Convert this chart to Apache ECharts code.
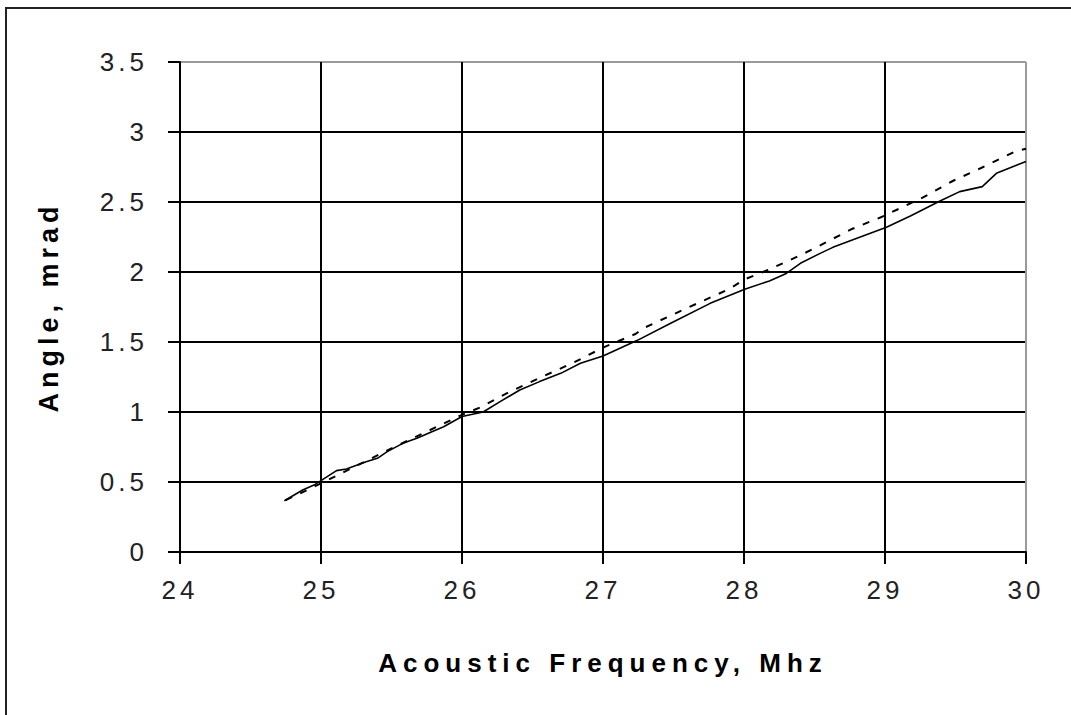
<!DOCTYPE html>
<html>
<head>
<meta charset="utf-8">
<script src="https://cdn.jsdelivr.net/npm/echarts@6/dist/echarts.min.js"></script>
<style>
html,body{margin:0;padding:0;background:#fff;}
#chart{width:1071px;height:715px;}
</style>
</head>
<body>
<div id="chart"></div>
<script>
// Measured angle (solid line)
const freqMeasured = [24.74,24.87,24.95,25.0,25.11,25.18,25.32,25.40,25.47,25.58,25.68,25.77,25.87,26.0,26.15,26.27,26.41,26.55,26.70,26.84,27.0,27.24,27.48,27.76,28.01,28.18,28.30,28.40,28.54,28.63,28.82,29.01,29.18,29.39,29.53,29.69,29.79,30.0];
const angleMeasured = [0.366,0.443,0.478,0.51,0.581,0.593,0.645,0.669,0.717,0.776,0.812,0.852,0.895,0.968,1.00,1.074,1.157,1.217,1.276,1.348,1.40,1.51,1.634,1.776,1.879,1.936,1.99,2.062,2.133,2.176,2.248,2.319,2.40,2.507,2.574,2.61,2.705,2.79];
// Calculated angle (dashed line)
const freqTheory = [24.75,25.0,25.5,26.0,26.13,26.34,26.58,26.79,27.0,27.23,27.30,27.59,27.89,28.01,28.17,28.40,28.54,28.76,28.98,29.27,29.48,29.70,29.93,30.0];
const angleTheory = [0.37,0.49,0.74,0.98,1.033,1.145,1.257,1.352,1.46,1.557,1.605,1.74,1.876,1.95,2.014,2.12,2.19,2.305,2.395,2.533,2.65,2.752,2.864,2.88];
const xTicks = [24,25,26,27,28,29,30];
const yTicks = [0,0.5,1,1.5,2,2.5,3,3.5];

const chart = echarts.init(document.getElementById('chart'), null, {renderer:'svg'});
const black = '#000';
const grey = '#9a9a9a';
chart.setOption({
  animation:false,
  backgroundColor:'#fff',
  graphic:[{type:'rect',shape:{x:6,y:8,width:1200,height:900},style:{fill:'none',stroke:'#222',lineWidth:2},silent:true}],
  grid:{left:180,top:62,right:45,bottom:163},
  xAxis:{
    type:'value',min:24,max:30,interval:1,
    name:'Acoustic Frequency, Mhz',nameLocation:'middle',nameGap:98,
    nameTextStyle:{fontFamily:'Liberation Sans, Arial',fontWeight:'bold',fontSize:26,color:'#000'},
    axisLine:{show:true,lineStyle:{color:black,width:2}},
    axisTick:{show:true,length:12,lineStyle:{color:black,width:2}},
    axisLabel:{margin:25,fontFamily:'Liberation Sans, Arial',fontSize:26,color:'#222',formatter:v=>String(v)},
    splitLine:{show:true,lineStyle:{color:xTicks.map((t,i)=>i===xTicks.length-1?grey:black),width:2}}
  },
  yAxis:{
    type:'value',min:0,max:3.5,interval:0.5,
    name:'Angle, mrad',nameLocation:'middle',nameGap:118,nameRotate:90,
    nameTextStyle:{fontFamily:'Liberation Sans, Arial',fontWeight:'bold',fontSize:27,color:'#000'},
    axisLine:{show:true,lineStyle:{color:black,width:2}},
    axisTick:{show:true,length:12,lineStyle:{color:black,width:2}},
    axisLabel:{margin:32,fontFamily:'Liberation Sans, Arial',fontSize:26,color:'#222',formatter:v=>String(v)},
    splitLine:{show:true,lineStyle:{color:yTicks.map((t,i)=>i===yTicks.length-1?grey:black),width:2}}
  },
  series:[
    {type:'line',data:freqMeasured.map((f,i)=>[f,angleMeasured[i]]),symbol:'none',lineStyle:{color:'#000',width:1.6}},
    {type:'line',data:freqTheory.map((f,i)=>[f,angleTheory[i]]),symbol:'none',lineStyle:{color:'#000',width:2,type:[7,9]}}
  ]
});
function spacing(){
  document.querySelectorAll('#chart svg text').forEach(t=>{
    const s = t.textContent;
    if (s==='Acoustic Frequency, Mhz') t.setAttribute('letter-spacing','6px');
    else if (s==='Angle, mrad') t.setAttribute('letter-spacing','5px');
    else t.setAttribute('letter-spacing','4px');
  });
}
spacing();
chart.on('finished',spacing);
setTimeout(spacing,50);
</script>
</body>
</html>
